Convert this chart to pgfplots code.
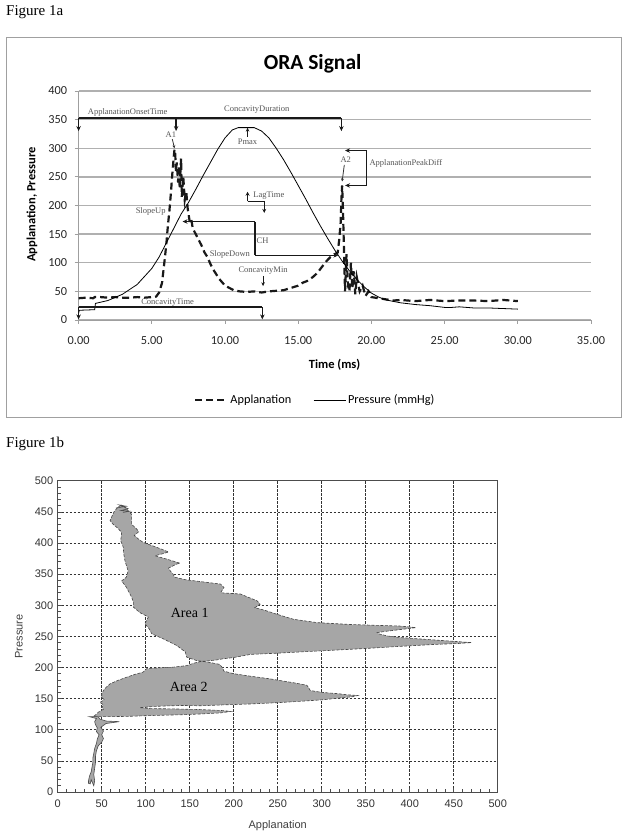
\documentclass[border=0pt]{standalone}
\usepackage{pgfplots}
\pgfplotsset{compat=1.18}
\usepackage{fontspec}
\setmainfont{Liberation Serif}
\newfontfamily\carlito{Carlito}
\newfontfamily\arial{Liberation Sans}
\usetikzlibrary{arrows.meta}
\definecolor{annot}{HTML}{555555}
\definecolor{gridg}{HTML}{B0B0B0}
\definecolor{areag}{HTML}{A6A6A6}
\definecolor{frameg}{HTML}{A0A0A0}
\begin{document}
\begin{tikzpicture}[
  ann/.style={font=\fontsize{8.5}{10}\selectfont, text=annot, inner sep=0pt},
  arr/.style={line width=1.6pt, black!90},
  arh/.style={line width=1.6pt, black!90, -{Stealth[length=5pt,width=4.5pt]}}]
\useasboundingbox (0pt,0pt) rectangle (624pt,838pt);
\node[anchor=west, font=\fontsize{15}{18}\selectfont, inner sep=0pt] at (6pt,826pt) {Figure 1a};
\draw[frameg, line width=0.8pt] (6pt,800.5pt) rectangle (621pt,421pt);
\node[font=\carlito\bfseries\fontsize{21.5}{24}\selectfont] at (312.6pt,774.4pt) {ORA Signal};

\begin{axis}[
  at={(78.6pt,518pt)}, anchor=south west, scale only axis,
  width=512.4pt, height=229pt,
  xmin=0, xmax=35, ymin=0, ymax=400,
  xtick={0,5,...,35},
  xticklabels={0.00,5.00,10.00,15.00,20.00,25.00,30.00,35.00},
  ytick={0,50,...,400},
  axis x line*=bottom, axis y line*=left,
  axis line style={gray!75, line width=0.8pt},
  tick style={gray!75, line width=0.8pt},
  tick align=outside, major tick length=4pt,
  ymajorgrids, grid style={gridg, line width=1.4pt},
  tick label style={font=\carlito\fontsize{12.3}{14}\selectfont, text=black!85},
  xticklabel style={yshift=-9pt},
  yticklabel style={xshift=-4pt},
  /pgf/number format/assume math mode=true,
  xlabel={Time (ms)}, ylabel={Applanation, Pressure},
  label style={font=\carlito\bfseries\fontsize{12.5}{15}\selectfont},
  xlabel style={at={(axis description cs:0.4996,-0.197)}, anchor=center},
  ylabel style={at={(axis description cs:-0.091,0.504)}, anchor=center},
  legend style={at={(axis description cs:0.462,-0.349)}, anchor=center, draw=none, fill=none,
    legend columns=2, font=\carlito\fontsize{12.3}{14}\selectfont,
    /tikz/every even column/.append style={column sep=20pt}},
  legend image code/.code={\draw[#1] (0pt,0pt) -- (32pt,0pt);},
  clip=false,
]
\addplot[black!90, line width=2.2pt, dash pattern=on 7pt off 4pt] coordinates {
(0,38) (0.5,39) (1.0,38) (1.1,40) (1.5,40) (2.0,39) (2.5,40) (3.0,39) (3.5,39) (4.0,40)
(4.5,39) (5.0,40) (5.3,41) (5.5,48) (5.7,65) (5.9,110) (6.0,135) (6.1,165) (6.2,190)
(6.3,220) (6.4,255) (6.5,285) (6.55,298) (6.6,290) (6.65,260) (6.7,275) (6.8,240)
(6.85,270) (6.9,230) (7.0,282) (7.05,215) (7.15,250) (7.25,210) (7.35,225) (7.45,195)
(7.6,170) (7.7,175) (7.8,160) (8.0,150) (8.2,140) (8.4,130) (8.6,118) (8.8,110) (9.0,98)
(9.2,88) (9.4,80) (9.6,72) (9.8,66) (10.0,60) (10.3,56) (10.6,52) (11.0,50) (11.5,49)
(12.0,50) (12.5,48) (13.0,50) (13.5,51) (14.0,52) (14.5,56) (15.0,60) (15.3,65) (15.6,68)
(16.0,75) (16.3,82) (16.6,92) (16.9,102) (17.2,110) (17.5,115) (17.7,118) (17.8,140)
(17.9,170) (17.95,210) (18.0,235) (18.05,200) (18.1,150) (18.15,100) (18.2,50) (18.3,115)
(18.4,60) (18.5,50) (18.6,100) (18.7,55) (18.8,85) (18.9,45) (19.0,75) (19.2,50) (19.4,60)
(19.6,42) (19.8,50) (20.0,40) (20.5,38) (21.0,36) (21.5,34) (22,35) (23,33) (24,35)
(25,33) (26,34) (27,34) (28,33) (29,35) (30,33)
};
\addlegendentry{Applanation}
\addplot[black, line width=0.8pt] coordinates {
(0,12) (0.05,17) (1.1,18) (1.15,29) (2,34) (3,45) (4,62) (5,90) (5.5,110) (6,135)
(6.5,160) (7,185) (7.5,205) (8,228) (8.5,252) (9,275) (9.5,298) (10,318) (10.5,332)
(10.9,336) (12.0,336) (12.5,330) (13,318) (13.5,300) (14,280) (14.5,258) (15,235)
(15.5,212) (16,188) (16.5,165) (17,143) (17.5,122) (18,103) (18.5,86) (19,71) (19.5,58)
(20,47) (20.5,40) (21,35) (22,30) (23,27) (24,25) (25,22) (25.5,22) (26,23) (27,21)
(28,21) (29,20) (30,19)
};
\addlegendentry{Pressure (mmHg)}
% annotations
\draw[arr] (0,353) -- (17.95,353);
\draw[arh] (0,353) -- (0,330);
\draw[arh] (6.66,353) -- (6.66,330);
\draw[arh] (17.95,353) -- (17.95,330);
\node[ann] at (3.35,363) {ApplanationOnsetTime};
\node[ann] at (12.17,367) {ConcavityDuration};
\draw[arr] (0,23) -- (12.55,23);
\draw[arh] (0,23) -- (0,1);
\draw[arh] (12.55,23) -- (12.55,1);
\node[ann] at (6.08,30) {ConcavityTime};
\draw[line width=1pt, black!90, -{Stealth[length=4pt,width=3.5pt]}] (11.54,320) -- (11.54,336);
\node[ann] at (11.54,312) {Pmax};
\node[ann] at (6.3,323) {A1};
\draw[line width=0.8pt, black!80, -{Stealth[length=3pt,width=3pt]}] (6.4,316) -- (6.55,300);
\node[ann] at (18.25,280) {A2};
\draw[line width=0.8pt, black!80, -{Stealth[length=3pt,width=3pt]}] (18.15,271) -- (18.0,242);
\draw[line width=1.6pt, black!90, {Stealth[length=5pt,width=4.5pt]}-{Stealth[length=5pt,width=4.5pt]}] (18.2,296) -- (19.67,296) -- (19.67,235) -- (18.2,235);
\node[ann, anchor=west] at (19.86,274) {ApplanationPeakDiff};
\draw[line width=1.4pt, black!90, -{Stealth[length=4pt,width=4pt]}] (11.54,207) -- (11.54,224);
\draw[line width=1.4pt, black!90] (11.54,207) -- (12.68,207);
\draw[line width=1.4pt, black!90, -{Stealth[length=4pt,width=4pt]}] (12.68,207) -- (12.68,187);
\node[ann, anchor=west] at (11.93,218) {LagTime};
\node[ann] at (4.92,190) {SlopeUp};
\draw[arh] (12.04,172) -- (7.1,172);
\draw[arr] (12.04,172) -- (12.04,113);
\draw[arh] (12.04,113) -- (17.75,113);
\node[ann] at (12.57,139) {CH};
\node[ann] at (10.33,115) {SlopeDown};
\node[ann] at (12.6,86) {ConcavityMin};
\draw[line width=1pt, black!90, -{Stealth[length=4pt,width=3.5pt]}] (12.6,77) -- (12.6,59);
\end{axis}

\node[anchor=west, font=\fontsize{15}{18}\selectfont, inner sep=0pt] at (6pt,394pt) {Figure 1b};

\begin{axis}[
  at={(57.7pt,46pt)}, anchor=south west, scale only axis,
  width=440pt, height=311.3pt,
  xmin=0, xmax=500, ymin=0, ymax=500,
  xtick={0,50,...,500}, ytick={0,50,...,500},
  minor x tick num=4, minor y tick num=4,
  xtick pos=left, ytick pos=left,
  tick align=inside, major tick length=4pt, minor tick length=3pt,
  axis line style={gray!60!black, line width=0.9pt},
  tick style={gray!60!black, line width=0.6pt},
  grid=major, grid style={black!80, line width=0.5pt, dash pattern=on 2.5pt off 1.5pt},
  tick label style={font=\arial\fontsize{11}{13}\selectfont, text=black!80},
  xticklabel style={yshift=-4pt},
  yticklabel style={xshift=-1pt},
  /pgf/number format/assume math mode=true,
  xlabel={Applanation}, ylabel={Pressure},
  label style={font=\arial\fontsize{11}{13}\selectfont, text=black!75},
  xlabel style={at={(axis description cs:0.5,-0.109)}, anchor=center},
  ylabel style={at={(axis description cs:-0.088,0.5)}, anchor=center},
]
\addplot[fill=areag, draw=gray!55!black, line width=0.6pt, dash pattern=on 3pt off 1.5pt] coordinates {
(72,461) (68,457) (64,450) (62,444) (59.5,436) (63,430) (68,424) (72.7,417) (71.6,403.5)
(74.6,393) (75,383) (76.5,371) (80,355) (78,345) (72.7,339) (78,329) (84,313) (86,305)
(86,297) (93.6,288) (103,281) (99,270.4) (104,262) (107,254) (120,246) (135,235.5)
(145,225) (146.6,216.7) (158,211) (164,210)
(155,207) (146.6,203) (131.4,200.5) (110,199) (101,198) (97,192.5) (88,189) (78.4,184.4)
(68,179) (59.5,173.7) (55,168) (52,163) (50,157) (50,152) (53,148) (48,144) (52,140)
(50,136) (52,133) (46,128) (44,125) (40.5,121)
(60,121) (80,121.5) (110,123) (140,124) (165,125.5) (185,127) (197,129.5)
(185,131) (160,132.5) (130,133.5) (105,134) (93,135.5)
(110,137.5) (140,139) (162,138.5) (190,140) (219,141.4) (250,143.5) (276,145.7) (300,148)
(321,151) (335,153) (341,155)
(330,156) (318,158) (300,160) (287,163) (285,168) (283,171.5) (270,175) (257,178)
(240,182) (219,186) (200,190) (189,194) (187,200) (184,205) (175,207.5) (164,210)
(170,210.5) (180,212) (188,214) (200,216) (219,221) (250,223) (276,225) (310,227.5)
(352,230.7) (390,234) (428,237) (455,238.5) (470,240)
(450,242) (420,245) (390,248) (375,250.5) (365,254) (363,256) (375,258.5) (390,261) (407,264)
(390,266.5) (333,269) (295,272) (268,277.4) (249,285.5) (235,292) (224,296) (230,301.6)
(226.6,307) (207.6,318) (185,320) (189,328.5) (185,334) (162,338) (145,341) (133,345)
(131,350) (128,355) (126,359.6) (135,366) (139,367.5) (124,374) (110.6,379.4) (120,383)
(126,385.5) (112.5,393) (97,401) (92,406) (87,412) (92,418) (90,422) (84,430) (84,440)
(84,446) (80,452) (76,458)
} -- cycle;
\addplot[fill=areag, draw=black!70, line width=0.6pt] coordinates {
(36,121) (44,118) (42,113) (43,108) (45,103) (44,97) (47,92) (45,85) (44,78) (42,70)
(41,62) (40,55) (40,48) (39,40) (38,32) (36,25) (35,18) (35,14) (37,13) (38,20)
(41,10) (42,18) (41,28) (42,38) (43,48) (43,58) (44,66) (46,74) (50,80) (52,86) (50,92)
(52,98) (49,104) (55,110) (70,113) (55,114) (48,117) (46,121)
} -- cycle;
\addplot[black!70, line width=0.6pt] coordinates {
(66,456) (78,459) (70,461) (80,455) (72,452) (82,451) (74,449)
};
\node[font=\fontsize{14}{16}\selectfont] at (axis cs:150,288) {Area 1};
\node[font=\fontsize{14}{16}\selectfont] at (axis cs:149,169) {Area 2};
\end{axis}
\end{tikzpicture}
\end{document}
